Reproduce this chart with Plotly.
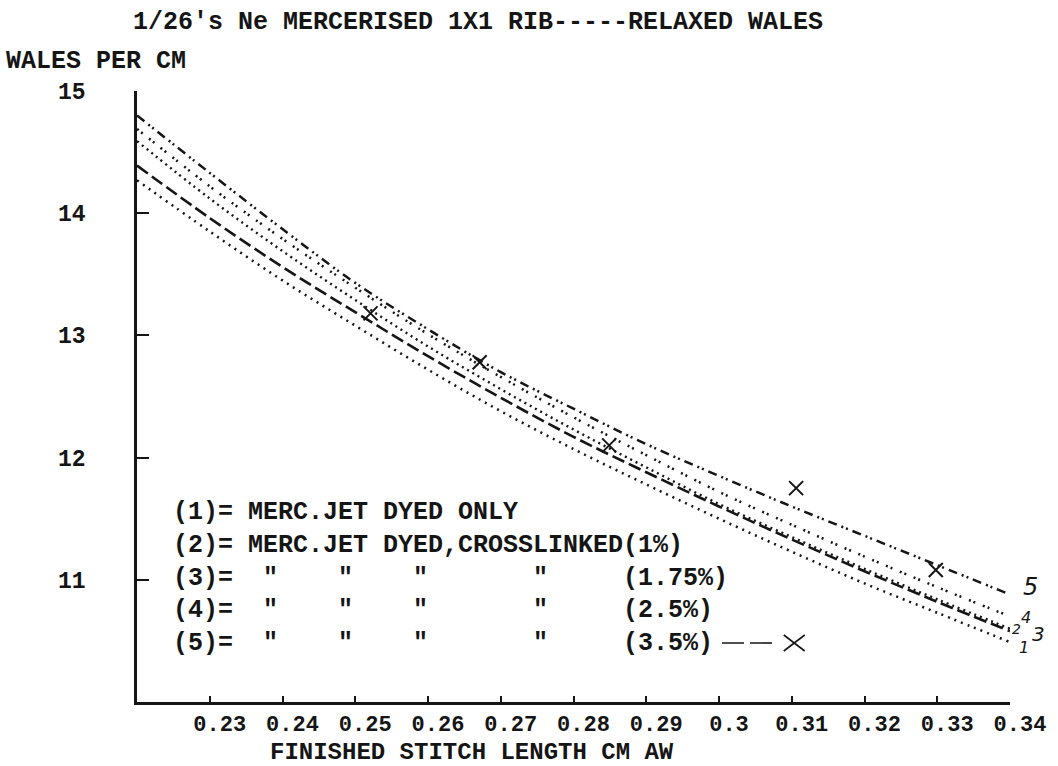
import plotly.graph_objects as go

# ---- data ----
stitch_length = [0.22, 0.23, 0.24, 0.25, 0.26, 0.27, 0.28, 0.29, 0.30, 0.31, 0.32, 0.33, 0.34]
wales_1 = [14.27, 13.85, 13.45, 13.08, 12.72, 12.38, 12.07, 11.78, 11.50, 11.23, 10.97, 10.73, 10.49]
wales_2 = [14.39, 13.96, 13.56, 13.19, 12.83, 12.49, 12.17, 11.88, 11.60, 11.33, 11.07, 10.82, 10.58]
wales_3 = [14.59, 14.12, 13.69, 13.29, 12.91, 12.56, 12.23, 11.92, 11.62, 11.35, 11.09, 10.84, 10.60]
wales_4 = [14.69, 14.22, 13.79, 13.39, 13.01, 12.66, 12.33, 12.02, 11.72, 11.45, 11.19, 10.94, 10.70]
wales_5 = [14.80, 14.33, 13.87, 13.43, 13.05, 12.70, 12.40, 12.11, 11.85, 11.60, 11.36, 11.12, 10.88]

obs5_x = [0.2521, 0.2671, 0.2849, 0.3106, 0.3298]
obs5_y = [13.18, 12.78, 12.10, 11.75, 11.08]

x_tickvals = [0.23, 0.24, 0.25, 0.26, 0.27, 0.28, 0.29, 0.30, 0.31, 0.32, 0.33, 0.34]
x_ticktext = ["0.23", "0.24", "0.25", "0.26", "0.27", "0.28", "0.29", "0.3", "0.31", "0.32", "0.33", "0.34"]
y_tickvals = [10, 11, 12, 13, 14, 15]
y_ticktext = ["", "11", "12", "13", "14", "15"]

legend_rows = [
    "(1)= MERC.JET DYED ONLY",
    "(2)= MERC.JET DYED,CROSSLINKED(1%)",
    '(3)=  "    "    "       "     (1.75%)',
    '(4)=  "    "    "       "     (2.5%)',
    '(5)=  "    "    "       "     (3.5%)',
]
end_labels = ["1", "2", "3", "4", "5"]

INK = "#151515"
MONO = "Liberation Mono"

series = [
    (wales_1, "2px,5px", 2.5),
    (wales_2, "13px,5px", 2.6),
    (wales_3, "2px,4px", 2.4),
    (wales_4, "2px,3px,2px,8px", 2.5),
    (wales_5, "9px,5px,2px,3px,2px,5px", 2.5),
]

fig = go.Figure()
for ys, dash, w in series:
    fig.add_trace(go.Scatter(
        x=stitch_length, y=ys, mode="lines",
        line=dict(color=INK, width=w, dash=dash, shape="spline", smoothing=1.0),
        showlegend=False, hoverinfo="skip"))

fig.add_trace(go.Scatter(
    x=obs5_x, y=obs5_y, mode="markers",
    marker=dict(symbol="x-thin", size=14, line=dict(color=INK, width=2)),
    showlegend=False, hoverinfo="skip"))

L, R, T, B = 137, 1013, 91, 702
W, H = 1058, 766
pw, ph = R - L, B - T

def px(xp):
    return (xp - L) / pw

def py(yp):
    return (B - yp) / ph

FS = 25
annotations = []
annotations.append(dict(text="1/26's Ne MERCERISED 1X1 RIB-----RELAXED WALES",
                        x=px(131), y=py(22), xref="paper", yref="paper",
                        xanchor="left", yanchor="middle", showarrow=False,
                        font=dict(family=MONO, size=FS, color=INK, weight="bold")))
annotations.append(dict(text="WALES PER CM", x=px(4), y=py(62), xref="paper", yref="paper",
                        xanchor="left", yanchor="middle", showarrow=False,
                        font=dict(family=MONO, size=FS, color=INK, weight="bold")))
annotations.append(dict(text="FINISHED STITCH LENGTH CM AW", x=px(268), y=py(752),
                        xref="paper", yref="paper", xanchor="left", yanchor="middle",
                        showarrow=False,
                        font=dict(family=MONO, size=24, color=INK, weight="bold")))
row_y = [512, 545, 578, 610, 643]
for txt, yy in zip(legend_rows, row_y):
    annotations.append(dict(text=txt.replace(" ", "&nbsp;"), x=px(171), y=py(yy),
                            xref="paper", yref="paper", xanchor="left", yanchor="middle",
                            showarrow=False,
                            font=dict(family=MONO, size=FS, color=INK, weight="bold")))
end_pos = [(1027, 647, 16), (1020, 629, 14), (1042, 634, 20), (1029, 617, 16), (1034, 587, 24)]
for lab, (xx, yy, sz) in zip(end_labels, end_pos):
    annotations.append(dict(text=lab, x=px(xx), y=py(yy), xref="paper", yref="paper",
                            xanchor="center", yanchor="middle", showarrow=False,
                            font=dict(family="DejaVu Sans", size=sz, color=INK, style="italic")))

shapes = [
    dict(type="line", xref="paper", yref="paper", x0=px(724), x1=px(778), y0=py(643), y1=py(643),
         line=dict(color=INK, width=1.6, dash="22px,6px")),
    dict(type="line", xref="paper", yref="paper", x0=px(786), x1=px(807), y0=py(635), y1=py(651),
         line=dict(color=INK, width=1.6)),
    dict(type="line", xref="paper", yref="paper", x0=px(786), x1=px(807), y0=py(651), y1=py(635),
         line=dict(color=INK, width=1.6)),
]

fig.update_layout(
    width=W, height=H, autosize=False,
    margin=dict(l=L, r=W - R, t=T, b=H - B, pad=0),
    paper_bgcolor="white", plot_bgcolor="white",
    annotations=annotations, shapes=shapes,
    xaxis=dict(range=[0.22, 0.34], tickvals=x_tickvals, ticktext=x_ticktext,
               showline=True, linecolor=INK, linewidth=2.5, ticks="inside",
               ticklen=6, tickwidth=1.8, tickcolor=INK, showgrid=False, zeroline=False,
               ticklabelstandoff=0, ticklabelshift=10,
               tickfont=dict(family=MONO, size=22, color=INK, weight="bold")),
    yaxis=dict(range=[10, 15], tickvals=y_tickvals, ticktext=y_ticktext,
               showline=True, linecolor=INK, linewidth=2.5, ticks="inside",
               ticklen=12, tickwidth=1.8, tickcolor=INK, showgrid=False, zeroline=False,
               ticklabelstandoff=44,
               tickfont=dict(family=MONO, size=23, color=INK, weight="bold")),
)

fig.write_html("out.html")
